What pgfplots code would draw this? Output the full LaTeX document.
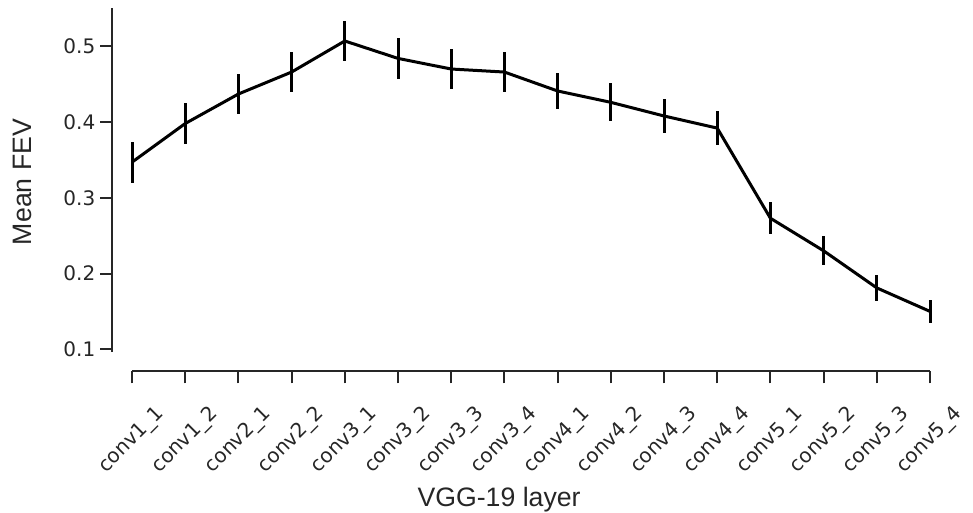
\documentclass[border=0pt]{standalone}
\usepackage{pgfplots}
\pgfplotsset{compat=1.18}
\usepackage{pgfplotstable}
\usepackage{fontspec}
\setmainfont{Liberation Sans}
\newfontfamily\dejavu{DejaVu Sans}
\definecolor{spine}{HTML}{262626}

% layer, mean FEV, error half-width
\pgfplotstableread{
x y e
0 0.347 0.027
1 0.398 0.027
2 0.437 0.026
3 0.466 0.027
4 0.507 0.027
5 0.484 0.027
6 0.470 0.027
7 0.466 0.026
8 0.441 0.024
9 0.426 0.025
10 0.408 0.023
11 0.392 0.022
12 0.273 0.021
13 0.230 0.019
14 0.181 0.017
15 0.150 0.015
}\fevdata

\begin{document}
\begin{tikzpicture}
\useasboundingbox (0,0) rectangle (729.75pt,384pt);
% y axis with the data
\begin{axis}[
  at={(84pt,120pt)}, anchor=south west,
  x=39.9pt, y=568.1pt,
  xmin=-0.376, xmax=15,
  ymin=0.0964, ymax=0.5506,
  axis x line=none, axis y line=left,
  y axis line style={-, line width=1.5pt, spine},
  ytick={0.1,0.2,0.3,0.4,0.5},
  tick align=outside,
  major tick length=9pt,
  y tick style={line width=1.5pt, spine},
  yticklabel style={font=\fontsize{15}{15}\selectfont\dejavu, text=spine},
  /pgf/number format/.cd, fixed, fixed zerofill, precision=1, assume math mode=true,
  /pgfplots/.cd,
  ylabel={Mean FEV},
  ylabel style={at={(rel axis cs:-0.110,0.494)}, anchor=center, rotate=0,
    font=\fontsize{20}{20}\selectfont, text=spine},
  clip=false,
]
\addplot[black, line width=2.25pt, line join=round,
  error bars/.cd, y dir=both, y explicit, error mark=none,
  error bar style={line width=2.25pt}]
  table[x=x, y=y, y error=e] {\fevdata};
\end{axis}
% offset x axis
\begin{axis}[
  at={(99pt,105.4pt)}, anchor=south west,
  x=39.9pt, y=0.75pt,
  xmin=0, xmax=15, ymin=0, ymax=1,
  axis x line=bottom, axis y line=none,
  x axis line style={-, line width=1.5pt, spine},
  xtick={0,...,15},
  xticklabels={conv1\_1,conv1\_2,conv2\_1,conv2\_2,conv3\_1,conv3\_2,conv3\_3,conv3\_4,
    conv4\_1,conv4\_2,conv4\_3,conv4\_4,conv5\_1,conv5\_2,conv5\_3,conv5\_4},
  tick align=outside,
  major tick length=9pt,
  x tick style={line width=1.5pt, spine},
  xticklabel style={font=\fontsize{15}{15}\selectfont\dejavu, text=spine,
    rotate=45, anchor=center, xshift=-30.2pt, yshift=-30.2pt},
  xlabel={VGG-19 layer},
  xlabel style={at={(axis cs:6.9,-134.5)}, anchor=base,
    font=\fontsize{20}{20}\selectfont, text=spine},
]
\end{axis}
\end{tikzpicture}
\end{document}
